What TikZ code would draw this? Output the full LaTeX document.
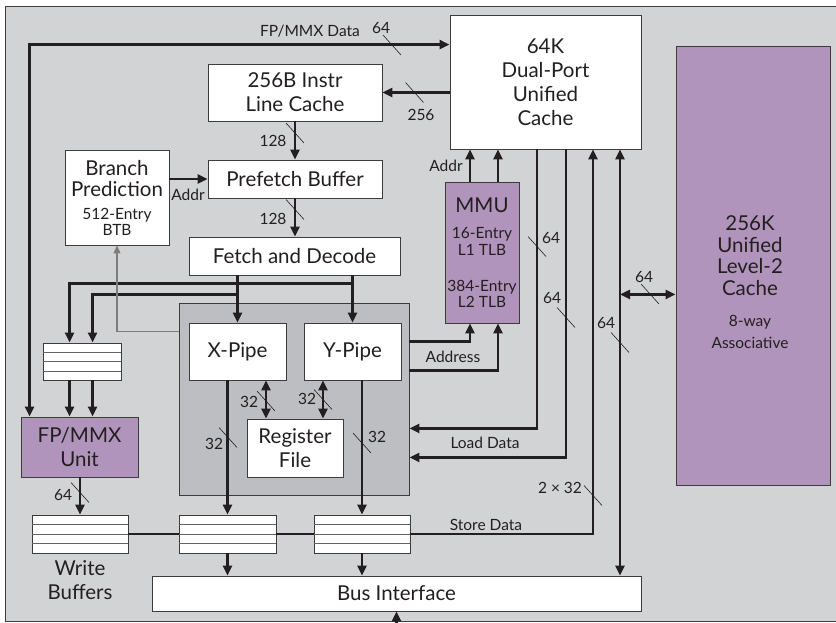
\documentclass[tikz,border=0pt]{standalone}
\usepackage{fontspec}
\setmainfont{Lato}
\usepackage{tikz}
\usetikzlibrary{arrows.meta,calc}
\definecolor{panel}{HTML}{D2D3D5}
\definecolor{core}{HTML}{BDBEC1}
\definecolor{mauve}{HTML}{B194BB}
\definecolor{ink}{HTML}{231F20}
\definecolor{edge}{HTML}{3C3C3C}
\definecolor{fbkgray}{HTML}{7D7D7D}
\newcommand\blkfont{\fontsize{20.5}{24}\selectfont}
\newcommand\tagfont{\fontsize{15.5}{18}\selectfont}
\tikzset{
  blk/.style={draw=edge, fill=white, line width=0.9pt, inner sep=0pt, align=center, text=ink, font=\blkfont},
  mblk/.style={blk, fill=mauve},
  region/.style={draw=edge, fill=core, line width=0.9pt, inner sep=0pt},
  buf/.style={draw=edge, fill=white, line width=0.9pt, inner sep=0pt, minimum height=38},
  rowline/.style={draw=edge!80, line width=0.6pt},
  bus/.style={draw=ink, line width=2.6pt},
  fbk/.style={draw=fbkgray, line width=1.1pt},
  slash/.style={draw=ink, line width=0.6pt},
  lab/.style={text=ink, font=\tagfont, inner sep=0pt}
}

\begin{document}
\begin{tikzpicture}[x=1pt, y=-1pt, >={Triangle[length=10pt,width=9pt]}]
  \useasboundingbox (0,0) rectangle (836,623);
  \fill[white] (0,0) rectangle (836,623);
  \draw[fill=panel, draw=edge, line width=1pt] (5,7) rectangle (838,621);

  % blocks
  \node[region, minimum width=230, minimum height=192] (pipes) at (294,399) {};
  \node[blk, minimum width=174, minimum height=57] (lcache) at (295,92.5) {256B Instr\\Line Cache};
  \node[blk, minimum width=174, minimum height=38] (prefetch) at (295,179) {Prefetch Buffer};
  \node[blk, minimum width=104, minimum height=95] (branch) at (117,197.5)
    {Branch\\[-3pt]Prediction\\[-1pt]\tagfont 512-Entry\\[-8pt]\tagfont BTB};
  \node[blk, minimum width=211, minimum height=38] (fetch) at (294.5,256) {Fetch and Decode};
  \node[blk, minimum width=191, minimum height=134] (dcache) at (545.5,82) {64K\\Dual-Port\\Unified\\Cache};
  \node[mblk, minimum width=74, minimum height=141] (mmu) at (482,252.5)
    {MMU\\[2pt]\tagfont 16-Entry\\[-7pt]\tagfont L1 TLB\\[12pt]\tagfont 384-Entry\\[-8pt]\tagfont L2 TLB};
  \node[mblk, minimum width=154, minimum height=439] (ltwo) at (753,265.5) {};
  \node[lab, align=center, font=\fontsize{20.5}{21.5}\selectfont] (ltxt) at (750,282)
    {256K\\Unified\\Level-2\\Cache\\[10pt]\tagfont 8-way\\\tagfont Associative};
  \node[blk, minimum width=97, minimum height=57] (xpipe) at (237.5,351.5) {X-Pipe};
  \node[blk, minimum width=97, minimum height=57] (ypipe) at (352.5,351.5) {Y-Pipe};
  \node[blk, minimum width=96, minimum height=58] (regfile) at (295,448) {Register\\File};
  \node[mblk, minimum width=117, minimum height=60] (fpu) at (79.5,447) {FP/MMX\\Unit};
  \node[buf, minimum width=78, minimum height=37] (fbuf) at (82,361.5) {};
  \node[buf, minimum width=96] (wbuf1) at (80,534) {};
  \node[buf, minimum width=97] (wbuf2) at (227.5,534) {};
  \node[buf, minimum width=96] (wbuf3) at (362,534) {};
  \node[blk, minimum width=489, minimum height=35] (biu) at (396.5,593.5) {Bus Interface};
  \node[lab, align=center, font=\blkfont] (wlab) at (80,580) {Write\\Buffers};

  \foreach \b in {fbuf,wbuf1,wbuf2,wbuf3}
    \foreach \f in {0.25,0.5,0.75}
      \draw[rowline] ($(\b.north west)!\f!(\b.south west)$) -- ($(\b.north east)!\f!(\b.south east)$);

  % instruction side
  \draw[bus,<->] ($(fpu.north west)+(9,0)$) |- ($(dcache.north west)+(0,30)$);
  \draw[bus,->] (lcache.east -| dcache.west) -- (lcache.east);
  \draw[bus,->] (lcache.south) -- (prefetch.north);
  \draw[bus,->] (prefetch.south) -- (prefetch.south |- fetch.north);
  \draw[bus,->] (prefetch.west -| branch.east) -- (prefetch.west);
  \draw[bus,->] (fetch.south -| xpipe) -- (xpipe.north);
  \draw[bus,->] (fetch.south -| ypipe) -- (ypipe.north);
  \draw[bus,->] ($(fetch.south -| ypipe)+(0,8)$) -| ($(fbuf.north west)+(27,0)$);
  \draw[bus,->] ($(fetch.south -| xpipe)+(0,19)$) -| ($(fbuf.north west)+(50,0)$);
  \coordinate (fa) at ($(fbuf.south west)+(27,0)$);
  \coordinate (fb) at ($(fbuf.south west)+(50,0)$);
  \draw[bus,->] (fa) -- (fa |- fpu.north);
  \draw[bus,->] (fb) -- (fb |- fpu.north);
  \draw[fbk,-{Triangle[length=8pt,width=7pt]}] ($(pipes.north west)+(0,29)$) -| (branch.south);

  % pipes and write buffers
  \draw[bus,->] (fpu.south -| wbuf1) -- (wbuf1.north);
  \draw[bus,->] (xpipe.south -| wbuf2) -- (wbuf2.north);
  \draw[bus,->] (ypipe.south -| wbuf3) -- (wbuf3.north);
  \coordinate (rx) at ($(regfile.north)+(-29,0)$);
  \coordinate (ry) at ($(regfile.north)+(28,0)$);
  \draw[bus,<->] (rx) -- (rx |- xpipe.south);
  \draw[bus,<->] (ry) -- (ry |- ypipe.south);

  % MMU
  \coordinate (ma) at ($(mmu.south)+(-12,0)$);
  \coordinate (mb) at ($(mmu.south)+(16,0)$);
  \draw[bus,->] ($(pipes.north east)+(0,39)$) -| (ma);
  \draw[bus,->] ($(pipes.north east)+(0,68)$) -| (mb);
  \draw[bus,->] (ma |- mmu.north) -- (ma |- dcache.south);
  \draw[bus,->] (mb |- mmu.north) -- (mb |- dcache.south);

  % data cache ports
  \coordinate (ca) at ($(dcache.south)+(-8.5,0)$);
  \coordinate (cb) at ($(dcache.south)+(20.5,0)$);
  \coordinate (cc) at ($(dcache.south)+(47.5,0)$);
  \coordinate (cd) at ($(dcache.south)+(74.5,0)$);
  \coordinate (ce) at ($(cd)+(0,145)$);
  \draw[bus,->] (ca) |- ($(pipes.south east)+(0,-67)$);
  \draw[bus,->] (cb) |- ($(pipes.south east)+(0,-38)$);
  \draw[bus] (wbuf1.east) -- (wbuf2.west);
  \draw[bus] (wbuf2.east) -- (wbuf3.west);
  \draw[bus,->] (wbuf3.east) -| (cc);
  \draw[bus,<->] (cd |- biu.north) -- (cd);
  \draw[bus,<->] (ce) -- (ce -| ltwo.west);

  % bus interface
  \draw[bus,->] (wbuf2.south) -- (wbuf2.south |- biu.north);
  \draw[bus,->] (wbuf3.south) -- (wbuf3.south |- biu.north);
  \coordinate (bin) at ($(biu.south)+(0,12)$);
  \draw[bus,->] (bin) -- (biu.south);

  % width marks
  \foreach \x/\y in {392/45, 414.5/92.5, 295/133, 295/209.5, 537/246.5, 566/317.5,
                     620/342.5, 650/294, 593/495.5, 80/492.5, 228/437.5, 362/443,
                     266/401, 323/399.5}
    \draw[slash] (\x-9,\y-10) -- (\x+9,\y+10);

  % labels
  \node[lab] (tfp) at (310,31) {FP/MMX Data};
  \node[lab] (wfp) at (381,28) {64};
  \node[lab] (wlc) at (421,115) {256};
  \node[lab] (wpa) at (273,141) {128};
  \node[lab] (wpb) at (273,219) {128};
  \node[lab] (tbr) at (188,195) {Addr};
  \node[lab] (tmm) at (446,166) {Addr};
  \node[lab] (tad) at (453,357) {Address};
  \node[lab] (tld) at (485,443) {Load Data};
  \node[lab] (tsd) at (486,525) {Store Data};
  \node[lab] (wla) at (551,238) {64};
  \node[lab] (wlb) at (552,298) {64};
  \node[lab] (wbu) at (606,323) {64};
  \node[lab] (wl2) at (644,277) {64};
  \node[lab] (wst) at (560,488) {2 × 32};
  \node[lab] (wfu) at (63,495) {64};
  \node[lab] (wxp) at (214,444) {32};
  \node[lab] (wyp) at (377,437) {32};
  \node[lab] (wrx) at (249,402) {32};
  \node[lab] (wry) at (307,399) {32};
\end{tikzpicture}
\end{document}
